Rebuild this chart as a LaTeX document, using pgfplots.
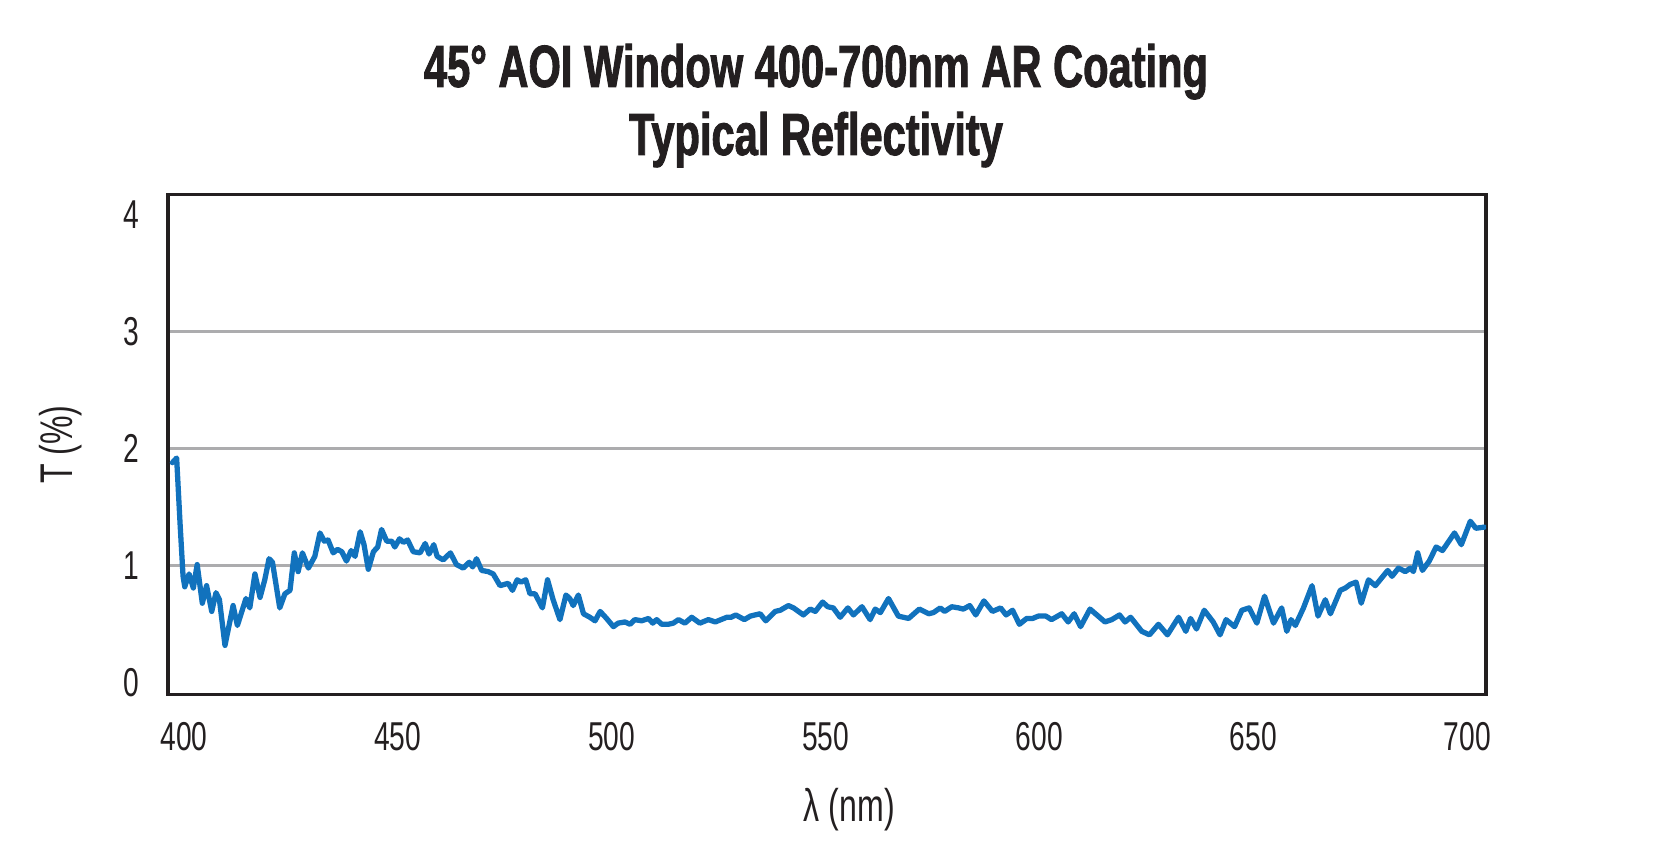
\documentclass[border=0pt]{standalone}
\usepackage{fontspec}
\setmainfont{Liberation Sans}[FakeStretch=0.7]
\newfontfamily\titlefont{Liberation Sans}[FakeStretch=0.7, BoldFeatures={FakeBold=1.5}]
\usepackage{pgfplots}
\pgfplotsset{compat=1.18}
\usepackage{pgfplotstable}
\definecolor{curveblue}{RGB}{17,114,189}
\definecolor{gridgray}{RGB}{172,172,174}
\definecolor{framecol}{RGB}{35,31,32}
\pgfplotstableread{
x y
397.3 1.88
398.3 1.92
399.1 1.36
399.8 0.91
400.2 0.82
401.2 0.93
402.2 0.81
403.1 1.01
404.3 0.68
405.3 0.83
406.5 0.61
407.5 0.77
408.3 0.71
409.6 0.32
411.5 0.66
412.5 0.49
414.5 0.72
415.4 0.64
416.6 0.93
417.8 0.73
418.9 0.88
419.9 1.06
420.7 1.03
422.4 0.64
423.6 0.76
424.8 0.79
425.8 1.11
426.7 0.95
427.7 1.11
429.1 0.98
430.6 1.08
431.8 1.28
432.8 1.21
433.7 1.22
434.9 1.11
435.9 1.14
436.9 1.12
438.0 1.04
439.1 1.13
440.0 1.08
441.2 1.29
442.1 1.18
443.1 0.97
444.3 1.12
445.3 1.16
446.2 1.31
447.4 1.21
448.6 1.21
449.3 1.16
450.4 1.23
451.3 1.20
452.3 1.22
453.6 1.12
455.2 1.11
456.4 1.19
457.3 1.10
458.4 1.18
459.2 1.08
460.6 1.05
462.3 1.11
463.7 1.01
465.3 0.98
466.7 1.03
467.5 0.99
468.4 1.06
469.6 0.96
471.1 0.95
472.3 0.93
473.9 0.83
475.8 0.85
476.8 0.79
477.9 0.88
478.8 0.86
479.9 0.88
480.9 0.76
482.1 0.76
483.8 0.64
485.0 0.88
486.3 0.71
487.9 0.54
489.3 0.75
490.2 0.72
491.0 0.66
492.2 0.75
493.4 0.59
494.9 0.56
496.1 0.53
497.3 0.61
498.8 0.55
500.4 0.48
501.5 0.51
503.1 0.52
504.3 0.50
505.4 0.54
507.0 0.53
508.6 0.55
509.6 0.51
510.5 0.54
511.7 0.50
513.2 0.50
514.4 0.51
515.6 0.54
517.1 0.51
518.7 0.56
520.6 0.51
522.6 0.54
524.2 0.52
526.9 0.56
527.9 0.56
529.0 0.58
531.0 0.54
532.4 0.57
533.5 0.58
534.7 0.59
536.0 0.53
538.2 0.61
539.4 0.62
541.3 0.66
542.5 0.64
544.8 0.58
546.4 0.63
547.6 0.61
549.3 0.69
550.5 0.65
551.8 0.64
553.4 0.56
555.2 0.64
556.5 0.58
558.5 0.65
560.4 0.54
561.6 0.63
562.8 0.60
564.7 0.72
567.0 0.57
569.4 0.55
571.9 0.63
574.1 0.59
575.2 0.60
576.8 0.64
577.8 0.61
579.5 0.65
581.1 0.64
582.2 0.63
583.7 0.66
585.1 0.58
587.0 0.70
589.0 0.61
590.9 0.64
592.2 0.58
593.7 0.62
595.3 0.50
597.0 0.55
598.4 0.55
599.7 0.57
601.5 0.57
602.8 0.54
605.2 0.59
606.7 0.52
608.1 0.59
609.6 0.48
611.8 0.63
613.4 0.58
615.3 0.52
616.9 0.54
618.7 0.58
620.0 0.52
621.3 0.56
623.9 0.44
625.7 0.41
627.8 0.50
629.9 0.41
632.5 0.56
634.2 0.44
635.3 0.55
636.7 0.46
638.5 0.62
640.6 0.52
642.2 0.41
643.6 0.54
645.6 0.48
647.3 0.62
649.0 0.64
650.8 0.51
652.6 0.74
654.7 0.51
656.6 0.64
657.8 0.44
658.8 0.54
659.8 0.49
661.7 0.64
663.7 0.83
665.1 0.57
666.8 0.71
668.0 0.59
670.3 0.79
671.5 0.81
672.6 0.84
674.0 0.86
675.2 0.68
676.9 0.88
678.5 0.83
681.4 0.96
682.4 0.91
683.9 0.98
685.5 0.95
686.7 0.98
687.4 0.95
688.4 1.11
689.5 0.96
691.1 1.04
692.7 1.16
694.2 1.13
697.0 1.28
698.6 1.18
700.7 1.38
702.0 1.32
704.0 1.33
}\datatable
\begin{document}
\begin{tikzpicture}
\begin{axis}[
  name=ax,
  scale only axis,
  width=474.4pt, height=180pt,
  xmin=396.3, xmax=704.4,
  ymin=-0.1, ymax=4.17,
  xtick={400,450,...,700},
  ytick={1,2,3},
  extra y ticks={0,4},
  extra y tick style={grid=none},
  ymajorgrids,
  major grid style={draw=gridgray, line width=1.1pt},
  major tick length=0pt,
  axis line style={draw=framecol, line width=1.3pt},
  /pgf/number format/assume math mode=true,
  tick label style={font=\fontsize{14.5}{16}\selectfont, text=framecol},
  xticklabel style={yshift=-6.5pt},
  yticklabel style={xshift=-7pt},
  xlabel={λ (nm)},
  ylabel={T (\%)},
  label style={font=\fontsize{16.5}{18}\selectfont, text=framecol},
  xlabel style={at={(axis description cs:0.5,0)}, anchor=center, yshift=-41.5pt, xshift=8pt},
  ylabel style={at={(axis description cs:0,0.5)}, anchor=center, yshift=38.6pt},
  clip=true,
]
\addplot[curveblue, line width=1.9pt, line join=round, line cap=round] table[x=x,y=y]{\datatable};
\end{axis}
\node[font=\titlefont\fontsize{21.4}{24.5}\selectfont\bfseries, text=framecol, align=center]
  at ([xshift=-4pt, yshift=32pt]ax.north) {45° AOI Window 400-700nm AR Coating\\Typical Reflectivity};
\pgfresetboundingbox
\path ([shift={(-60.5pt,-57.6pt)}]ax.south west) rectangle ++(600pt,307.6pt);
\end{tikzpicture}
\end{document}
